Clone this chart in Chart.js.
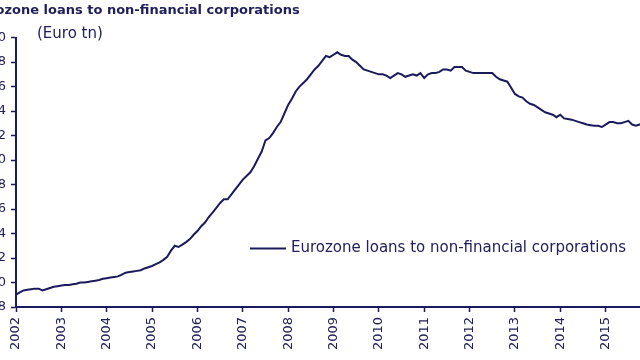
<!DOCTYPE html>
<html lang="en">
<head>
    <meta charset="UTF-8">
    <title>Eurozone loans to non-financial corporations</title>
    <script src="https://cdn.jsdelivr.net/npm/chart.js"></script>
    <style>
        body {
            margin: 0;
            background-color: #fff;
        }
        .frame {
            position: relative;
            width: 640px;
            height: 360px;
            overflow: hidden;
        }
        #loansChart {
            position: absolute;
            left: -40px;
            top: 0;
        }
    </style>
</head>
<body>
    <div class="frame">
        <canvas id="loansChart" width="760" height="360"></canvas>
    </div>

    <script>
        // monthly series, starts Jan 2002 (Euro tn)
        const startYear = 2002;
        const yearTicks = [2002, 2003, 2004, 2005, 2006, 2007, 2008, 2009, 2010, 2011, 2012, 2013, 2014, 2015, 2016];
        const valueTicks = [2.8, 3.0, 3.2, 3.4, 3.6, 3.8, 4.0, 4.2, 4.4, 4.6, 4.8, 5.0];
        const loans = [
            2.90, 2.92, 2.935, 2.94, 2.945, 2.95, 2.95, 2.935, 2.945, 2.955, 2.965, 2.97,
            2.975, 2.98, 2.98, 2.985, 2.99, 3.00, 3.00, 3.005, 3.01, 3.015, 3.02, 3.03,
            3.035, 3.04, 3.045, 3.05, 3.065, 3.08, 3.085, 3.09, 3.095, 3.10, 3.115, 3.125,
            3.135, 3.15, 3.165, 3.185, 3.21, 3.26, 3.30, 3.29, 3.31, 3.33, 3.355, 3.39,
            3.42, 3.46, 3.49, 3.535, 3.57, 3.61, 3.65, 3.68, 3.68, 3.72, 3.76, 3.80,
            3.84, 3.87, 3.90, 3.95, 4.01, 4.07, 4.16, 4.18, 4.22, 4.27, 4.31, 4.38,
            4.45, 4.50, 4.56, 4.60, 4.63, 4.66, 4.70, 4.74, 4.77, 4.81, 4.85, 4.84,
            4.86, 4.88, 4.86, 4.85, 4.85, 4.82, 4.80, 4.77, 4.74, 4.73, 4.72, 4.71,
            4.70, 4.70, 4.69, 4.67, 4.69, 4.71, 4.70, 4.68, 4.69, 4.70, 4.69, 4.71,
            4.67, 4.70, 4.71, 4.71, 4.72, 4.74, 4.74, 4.73, 4.76, 4.76, 4.76, 4.73,
            4.72, 4.71, 4.71, 4.71, 4.71, 4.71, 4.71, 4.68, 4.66, 4.65, 4.64, 4.59,
            4.54, 4.52, 4.51, 4.48, 4.46, 4.45, 4.43, 4.41, 4.39, 4.38, 4.37, 4.35,
            4.37, 4.34, 4.335, 4.33, 4.32, 4.31, 4.30, 4.29, 4.285, 4.28, 4.28, 4.27,
            4.29, 4.31, 4.31, 4.30, 4.30, 4.31, 4.32, 4.29, 4.28, 4.29, 4.30
        ];
        const seriesName = 'Eurozone loans to non-financial corporations';

        const navy = '#1a1a5c';
        const textColor = '#20205a';
        const fontFamily = '"DejaVu Sans", Verdana, sans-serif';

        // legend + unit label sit inside the plot, drawn by hand
        const annotations = {
            id: 'annotations',
            afterDraw(chart) {
                const ctx = chart.ctx;
                const area = chart.chartArea;
                ctx.save();
                ctx.font = '15px ' + fontFamily;
                ctx.fillStyle = textColor;
                ctx.textBaseline = 'middle';
                ctx.fillText('(Euro tn)', area.left + 21, area.top - 3);

                const ly = area.top + 211;
                ctx.strokeStyle = navy;
                ctx.lineWidth = 2;
                ctx.beginPath();
                ctx.moveTo(area.left + 234, ly);
                ctx.lineTo(area.left + 270, ly);
                ctx.stroke();
                ctx.fillText(seriesName, area.left + 275, ly);
                ctx.restore();
            }
        };

        const ctx = document.getElementById('loansChart').getContext('2d');
        new Chart(ctx, {
            type: 'line',
            data: {
                datasets: [{
                    label: seriesName,
                    data: loans.map((v, i) => ({ x: startYear + i / 12, y: v })),
                    borderColor: navy,
                    borderWidth: 2,
                    pointRadius: 0,
                    tension: 0,
                    fill: false
                }]
            },
            options: {
                responsive: false,
                animation: false,
                layout: {
                    padding: { left: 11, right: 69, top: 0, bottom: 8 }
                },
                scales: {
                    x: {
                        type: 'linear',
                        min: yearTicks[0],
                        max: yearTicks[yearTicks.length - 1],
                        afterBuildTicks: s => { s.ticks = yearTicks.map(v => ({ value: v })); },
                        afterFit: s => { s.height = 45; },
                        border: { color: navy, width: 2 },
                        grid: { drawOnChartArea: false, tickLength: 5, color: navy, tickWidth: 1.5 },
                        ticks: {
                            autoSkip: false,
                            minRotation: 90,
                            maxRotation: 90,
                            padding: 5,
                            color: textColor,
                            font: { family: fontFamily, size: 13 },
                            callback: v => String(v)
                        }
                    },
                    y: {
                        min: valueTicks[0],
                        max: valueTicks[valueTicks.length - 1],
                        afterBuildTicks: s => { s.ticks = valueTicks.map(v => ({ value: v })); },
                        afterFit: s => { s.width = 45; },
                        border: { color: navy, width: 2 },
                        grid: { drawOnChartArea: false, tickLength: 5, color: navy, tickWidth: 1.5 },
                        ticks: {
                            padding: 5,
                            color: textColor,
                            font: { family: fontFamily, size: 13 },
                            callback: v => v.toFixed(1)
                        }
                    }
                },
                plugins: {
                    legend: { display: false },
                    tooltip: { enabled: false },
                    title: {
                        display: true,
                        text: seriesName,
                        align: 'start',
                        color: textColor,
                        font: { family: fontFamily, size: 13, weight: 'bold' },
                        padding: { top: 3, bottom: 19 }
                    }
                }
            },
            plugins: [annotations]
        });
    </script>
</body>
</html>
